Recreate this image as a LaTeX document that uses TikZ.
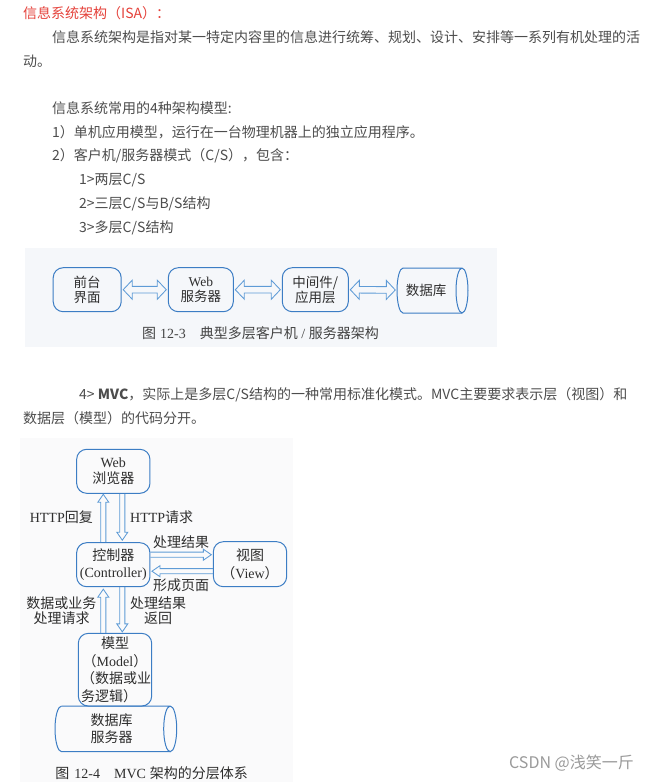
\documentclass[tikz,border=0pt]{standalone}
\usepackage{fontspec}
\setmainfont{Noto Sans CJK SC}
\newfontfamily\tms{Liberation Serif}
\usetikzlibrary{calc}
\definecolor{txt}{HTML}{4D4D4D}
\definecolor{ttl}{HTML}{E5413A}
\definecolor{figt}{HTML}{2E2E2E}
\definecolor{boxc}{HTML}{3C7DC4}
\definecolor{arrc}{HTML}{5E9BD6}
\definecolor{bgA}{RGB}{245,247,250}
\definecolor{bgB}{RGB}{250,250,251}
\definecolor{markc}{HTML}{9A9A9A}
\newcommand\fsz[2]{\fontsize{#1}{#2}\selectfont}
\newcommand\twoarrow[5]{%
  \coordinate (qa) at (#1); \coordinate (qb) at (#2);
  \coordinate (qh) at ($(qb)!#5!(qa)$); \coordinate (qg) at ($(qa)!#5!(qb)$);
  \draw[hollow] (qa) -- ($(qg)!#4!90:(qb)$) -- ($(qg)!#3!90:(qb)$) -- ($(qh)!#3!-90:(qa)$)
    -- ($(qh)!#4!-90:(qa)$) -- (qb) -- ($(qh)!#4!90:(qa)$) -- ($(qh)!#3!90:(qa)$)
    -- ($(qg)!#3!-90:(qb)$) -- ($(qg)!#4!-90:(qb)$) -- cycle;}
\newcommand\onearrow[5]{%
  \coordinate (qa) at (#1); \coordinate (qb) at (#2);
  \coordinate (qh) at ($(qb)!#5!(qa)$);
  \draw[hollow] ($(qa)!#3!90:(qb)$) -- ($(qh)!#3!-90:(qa)$) -- ($(qh)!#4!-90:(qa)$) -- (qb)
    -- ($(qh)!#4!90:(qa)$) -- ($(qh)!#3!90:(qa)$) -- ($(qa)!#3!-90:(qb)$);}
\tikzset{
  body/.style={anchor=west, inner sep=0pt, text=txt, font=\fsz{14}{16}},
  rbox/.style={draw=boxc, line width=1pt, rounded corners=10pt, inner sep=0pt, align=center, text=figt},
  hollow/.style={draw=arrc, line width=0.85pt, line join=miter},
  cyl/.style={draw=boxc, line width=1pt},
  lbl/.style={inner sep=0pt, text=figt, align=center, font=\fsz{14}{15.6}},
}
\begin{document}
\begin{tikzpicture}[x=1pt,y=1pt]
\useasboundingbox (0,0) rectangle (649,-782);
\fill[white] (0,0) rectangle (649,-782);
% ---------- body text ----------
\node[body, text=ttl] (t0) at (23,-13) {信息系统架构（ISA）：};
\node[body] (t1) at (52,-37) {信息系统架构是指对某一特定内容里的信息进行统筹、规划、设计、安排等一系列有机处理的活};
\node[body] (t2) at (23,-61) {动。};
\node[body] (t3) at (52,-108) {信息系统常用的4种架构模型:};
\node[body] (t4) at (52,-132) {1）单机应用模型，运行在一台物理机器上的独立应用程序。};
\node[body] (t5) at (52,-156) {2）客户机/服务器模式（C/S），包含：};
\node[body] (t6) at (79,-180) {1>两层C/S};
\node[body] (t7) at (79,-204) {2>三层C/S与B/S结构};
\node[body] (t8) at (79,-228) {3>多层C/S结构};
\node[body] (t9) at (79,-395) {4> {\bfseries MVC}，实际上是多层C/S结构的一种常用标准化模式。MVC主要要求表示层（视图）和};
\node[body] (t10) at (23,-418) {数据层（模型）的代码分开。};
% ---------- figure 12-3 ----------
\fill[bgA] (25,-248) rectangle (497,-347);
\node[rbox, minimum width=68pt, minimum height=44pt, font=\fsz{13.5}{15.5}] (fe) at (87.2,-289.7) {前台\\界面};
\node[rbox, minimum width=65pt, minimum height=44pt, font=\fsz{13.5}{15.5}] (web) at (200.8,-289.7) {{\tms Web}\\服务器};
\node[rbox, minimum width=66pt, minimum height=44pt, font=\fsz{13.5}{15.5}] (mid) at (315.3,-289.7) {中间件/\\应用层};
\node[inner sep=0pt, minimum width=58pt, minimum height=44pt, text=figt, font=\fsz{13.5}{15.5}] (db1) at (426,-290.5) {数据库};
\draw[cyl] (403,-268) -- (462,-268) arc[start angle=90,end angle=-270,x radius=6,y radius=22.5];
\draw[cyl] (462,-313) -- (403,-313) arc[start angle=270,end angle=90,x radius=6,y radius=22.5];
\twoarrow{$(fe.east)+(1.5,0)$}{$(web.west)+(-1.5,0)$}{3.3pt}{9.5pt}{9pt}
\twoarrow{$(web.east)+(1.5,0)$}{$(mid.west)+(-1.5,0)$}{3.3pt}{9.5pt}{9pt}
\twoarrow{$(mid.east)+(1.5,0)$}{$(db1.west)+(-1.5,0.5)$}{3.3pt}{9.5pt}{9pt}
\node[lbl, text=figt!90!white] (cap1) at (260.5,-333.3) {图\hspace{4pt}{\tms 12-3}\hspace{14pt}典型多层客户机{\tms\ / }服务器架构};
% ---------- figure 12-4 ----------
\fill[bgB] (20,-438) rectangle (293,-782);
\node[rbox, minimum width=73.3pt, minimum height=44pt, font=\fsz{14}{16}] (web2) at (113.3,-471.3) {{\tms Web}\\浏览器};
\node[rbox, minimum width=73.3pt, minimum height=44pt, font=\fsz{14}{17.5}] (ctl) at (113.3,-564.7) {控制器\\{\tms (Controller)}};
\node[rbox, minimum width=73.3pt, minimum height=45pt, font=\fsz{14}{17.5}] (view) at (250,-564.2) {视图\\（{\tms View}）};
\node[rbox, minimum width=73.4pt, minimum height=72.7pt, font=\fsz{14}{17.6}] (model) at (115,-669.7)
  {模型\\（{\tms Model}）\\\makebox[68pt][l]{（数据或业}\\\makebox[68pt][l]{务逻辑）}};
\node[inner sep=0pt, minimum width=100pt, minimum height=45pt, align=center, text=figt, font=\fsz{14}{16.7}] (db2) at (111.7,-728.5) {数据库\\服务器};
\draw[cyl] (61.5,-706) -- (170.2,-706) arc[start angle=90,end angle=-270,x radius=6.5,y radius=22.85];
\draw[cyl] (170.2,-751.7) -- (61.5,-751.7) arc[start angle=270,end angle=90,x radius=6.5,y radius=22.85];
\coordinate (m1) at ($(ctl.south)+(-10,0)$);
\coordinate (m2) at ($(ctl.south)+(9,0)$);
\onearrow{$(ctl.north)+(-10,0)$}{$(web2.south)+(-10,-0.5)$}{2.6pt}{5.5pt}{8pt}
\onearrow{$(web2.south)+(9,0)$}{$(ctl.north)+(9,2)$}{2.6pt}{5.5pt}{8pt}
\onearrow{$(ctl.east)+(0,10)$}{$(view.west)+(-1.5,9.5)$}{2.6pt}{5.5pt}{8pt}
\onearrow{$(view.west)+(0,-7)$}{$(ctl.east)+(1.5,-6.5)$}{2.6pt}{5.5pt}{8pt}
\onearrow{m1 |- model.north}{$(m1)+(0,-2)$}{2.6pt}{5.5pt}{8pt}
\onearrow{m2}{$(m2 |- model.north)+(0,1)$}{2.6pt}{5.5pt}{8pt}
\node[lbl, anchor=east] (lb1) at (93,-516.7) {{\tms HTTP}回复};
\node[lbl, anchor=west] (lb2) at (130,-516.7) {{\tms HTTP}请求};
\node[lbl] (lb3) at (181,-541.7) {处理结果};
\node[lbl] (lb4) at (181,-585) {形成页面};
\node[lbl] (lb5) at (61.5,-610.5) {数据或业务\\处理请求};
\node[lbl] (lb6) at (158,-610.5) {处理结果\\返回};
\node[lbl] (cap2) at (151.7,-773.3) {图\hspace{5pt}{\tms 12-4}\hspace{14pt}{\tms MVC}\hspace{4pt}架构的分层体系};
% ---------- watermark text ----------
\node[anchor=east, inner sep=0pt, text=markc, font=\fsz{16}{18}] (csdn) at (634,-763) {CSDN @浅笑一斤};
\end{tikzpicture}
\end{document}
